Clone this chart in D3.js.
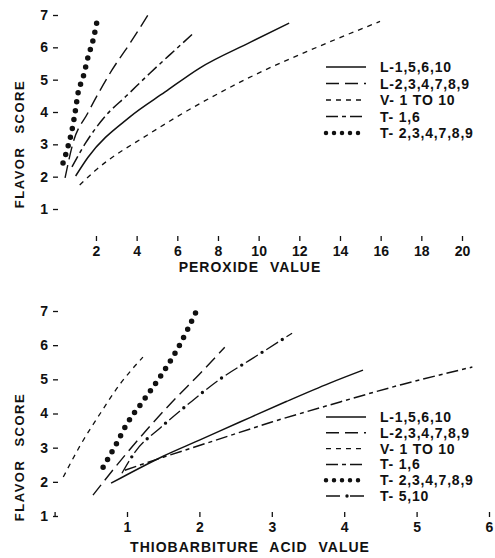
<!DOCTYPE html>
<html>
<head>
  <meta charset="UTF-8">
  <title>Flavor score vs peroxide / TBA value</title>
  <style>
    body { margin: 0; background: #fff; }
    svg text { font-family: "Liberation Sans", Arial, sans-serif; font-weight: bold; fill: #111; }
    .tick text { font-size: 14px; }
    .tick line { stroke: #111; stroke-width: 1.3; }
  </style>
</head>
<body>
<svg></svg>
<script src="https://d3js.org/d3.v7.min.js"></script>
<script>

// ---- top panel: flavor score vs peroxide value
let pvL1 = [[1.0, 2.02], [1.61, 2.6], [3.67, 3.85], [5.4, 4.62], [7.1, 5.36], [9.6, 6.16], [11.5, 6.75]];
let pvL2 = [[0.48, 1.96], [0.87, 3.04], [1.6, 3.97], [2.79, 5.3], [3.7, 6.15], [4.56, 7.0]];
let pvV = [[1.2, 1.74], [1.95, 2.18], [4.66, 3.34], [9.3, 4.99], [13.5, 6.17], [15.97, 6.8]];
let pvT16 = [[0.82, 2.3], [1.5, 3.05], [2.5, 3.9], [3.5, 4.5], [4.65, 5.2], [5.6, 5.75], [6.8, 6.44]];
let pvT2 = [[0.38, 2.42], [0.62, 2.92], [0.82, 3.44], [0.97, 3.97], [1.12, 4.59], [1.37, 5.08], [1.61, 5.7], [1.86, 6.23], [2.05, 6.8]];
let pvTicks = [2, 4, 6, 8, 10, 12, 14, 16, 18, 20];
let pvLegend = ["L-1,5,6,10", "L-2,3,4,7,8,9", "V- 1 TO 10", "T- 1,6", "T- 2,3,4,7,8,9"];

// ---- bottom panel: flavor score vs thiobarbituric acid value
let tbL1 = [[0.78, 1.96], [1.5, 2.75], [2.0, 3.22], [2.56, 3.75], [3.2, 4.35], [3.8, 4.89], [4.26, 5.27]];
let tbL2 = [[0.53, 1.61], [1.0, 2.85], [1.62, 4.33], [2.0, 5.15], [2.35, 5.94]];
let tbV = [[0.12, 2.14], [0.35, 3.05], [0.63, 4.0], [0.9, 4.85], [1.22, 5.65]];
let tbT16 = [[0.97, 2.34], [1.5, 2.72], [2.2, 3.2], [3.0, 3.75], [3.8, 4.25], [4.8, 4.85], [5.77, 5.36]];
let tbT2 = [[0.67, 2.43], [0.85, 3.1], [1.0, 3.7], [1.2, 4.3], [1.45, 5.05], [1.7, 5.9], [1.96, 7.0]];
let tbT510 = [[0.93, 2.25], [1.11, 2.87], [1.47, 3.6], [1.86, 4.3], [2.28, 5.0], [2.74, 5.62], [3.28, 6.35]];
let tbTicks = [0, 1, 2, 3, 4, 5, 6];
let tbLegend = ["L-1,5,6,10", "L-2,3,4,7,8,9", "V- 1 TO 10", "T- 1,6", "T- 2,3,4,7,8,9", "T- 5,10"];

let scoreTicks = [1, 2, 3, 4, 5, 6, 7];

let width = 495, height = 558;

let svg = d3.select("svg")
    .attr("width", width)
    .attr("height", height);

// line styles, one per group
let styles = {
    L1:   { dash: null, w: 1.5 },
    L2:   { dash: "13,6", w: 1.4 },
    V:    { dash: "5,5", w: 1.3 },
    T16:  { dash: "12,4,4,4", w: 1.5 },
    T2:   { dash: "0,9", w: 5.5, cap: "round" },
    T510: { dash: "14,10", w: 1.3, dots: true }
};

function drawPanel(cfg) {
    let g = svg.append("g");

    let x = d3.scaleLinear().domain(cfg.xDomain).range(cfg.xRange);
    let y = d3.scaleLinear().domain([1, 7]).range(cfg.yRange);

    let line = d3.line()
        .x(d => x(d[0]))
        .y(d => y(d[1]))
        .curve(d3.curveMonotoneX);

    // y axis: only little dashes, no domain
    let yAxis = g.append("g")
        .attr("transform", "translate(" + cfg.yAxisX + ",0)")
        .call(d3.axisLeft(y).tickValues(scoreTicks).tickSize(5).tickPadding(5).tickFormat(d3.format("d")));
    yAxis.select(".domain").remove();

    let xAxis = g.append("g")
        .attr("transform", "translate(0," + cfg.xAxisY + ")")
        .call(d3.axisBottom(x).tickValues(cfg.xTicks).tickSize(5).tickPadding(5)
            .tickFormat(d => d === 0 ? "" : d));
    xAxis.select(".domain").remove();

    // axis titles
    g.append("text")
        .attr("x", cfg.xTitleX)
        .attr("y", cfg.xTitleY)
        .attr("text-anchor", "middle")
        .style("font-size", "14px")
        .style("letter-spacing", "1px")
        .style("word-spacing", "6px")
        .text(cfg.xTitle);

    g.append("text")
        .attr("transform", "translate(24," + cfg.yTitleY + ") rotate(-90)")
        .attr("text-anchor", "middle")
        .style("font-size", "13px")
        .style("letter-spacing", "1.5px")
        .style("word-spacing", "8px")
        .text("FLAVOR SCORE");

    // curves
    cfg.series.forEach(s => {
        let st = styles[s.style];
        g.append("path")
            .datum(s.data)
            .attr("d", line)
            .attr("fill", "none")
            .attr("stroke", "#111")
            .attr("stroke-width", st.w)
            .attr("stroke-linecap", st.cap || "butt")
            .attr("stroke-dasharray", st.dash);
        if (st.dots) {
            g.append("path")
                .datum(s.data)
                .attr("d", line)
                .attr("fill", "none")
                .attr("stroke", "#111")
                .attr("stroke-width", 3.4)
                .attr("stroke-linecap", "round")
                .attr("stroke-dasharray", "0,24")
                .attr("stroke-dashoffset", -19);
        }
    });

    // legend
    let leg = g.selectAll("g.legend")
        .data(cfg.series)
        .enter().append("g")
        .attr("class", "legend")
        .attr("transform", (d, i) => "translate(0," + (cfg.legendY + i * cfg.legendStep) + ")");

    leg.append("line")
        .attr("x1", 326).attr("x2", 366)
        .attr("y1", 0).attr("y2", 0)
        .attr("stroke", "#111")
        .attr("stroke-width", d => d.style === "T2" ? 4.5 : styles[d.style].w)
        .attr("stroke-linecap", d => styles[d.style].cap || "butt")
        .attr("stroke-dasharray", d => d.style === "T2" ? "0,8" : styles[d.style].dash);

    leg.filter(d => styles[d.style].dots).append("circle")
        .attr("cx", 347).attr("cy", 0).attr("r", 1.7).attr("fill", "#111");

    leg.append("text")
        .attr("x", 380)
        .attr("y", 5)
        .style("font-size", "14px")
        .style("letter-spacing", "0.8px")
        .text((d, i) => cfg.legend[i]);
}

drawPanel({
    xDomain: [0, 20], xRange: [55.3, 462],
    yRange: [209, 15], yAxisX: 58, xAxisY: 236,
    xTicks: pvTicks,
    xTitle: "PEROXIDE VALUE", xTitleX: 250, xTitleY: 272,
    yTitleY: 144,
    legendY: 67, legendStep: 16.5, legend: pvLegend,
    series: [
        { data: pvL1, style: "L1" },
        { data: pvL2, style: "L2" },
        { data: pvV, style: "V" },
        { data: pvT16, style: "T16" },
        { data: pvT2, style: "T2" }
    ]
});

drawPanel({
    xDomain: [0, 6], xRange: [54.6, 489],
    yRange: [516, 311], yAxisX: 58, xAxisY: 512,
    xTicks: tbTicks,
    xTitle: "THIOBARBITURE ACID VALUE", xTitleX: 250, xTitleY: 552,
    yTitleY: 457,
    legendY: 417, legendStep: 15.8, legend: tbLegend,
    series: [
        { data: tbL1, style: "L1" },
        { data: tbL2, style: "L2" },
        { data: tbV, style: "V" },
        { data: tbT16, style: "T16" },
        { data: tbT2, style: "T2" },
        { data: tbT510, style: "T510" }
    ]
});

</script>
</body>
</html>
